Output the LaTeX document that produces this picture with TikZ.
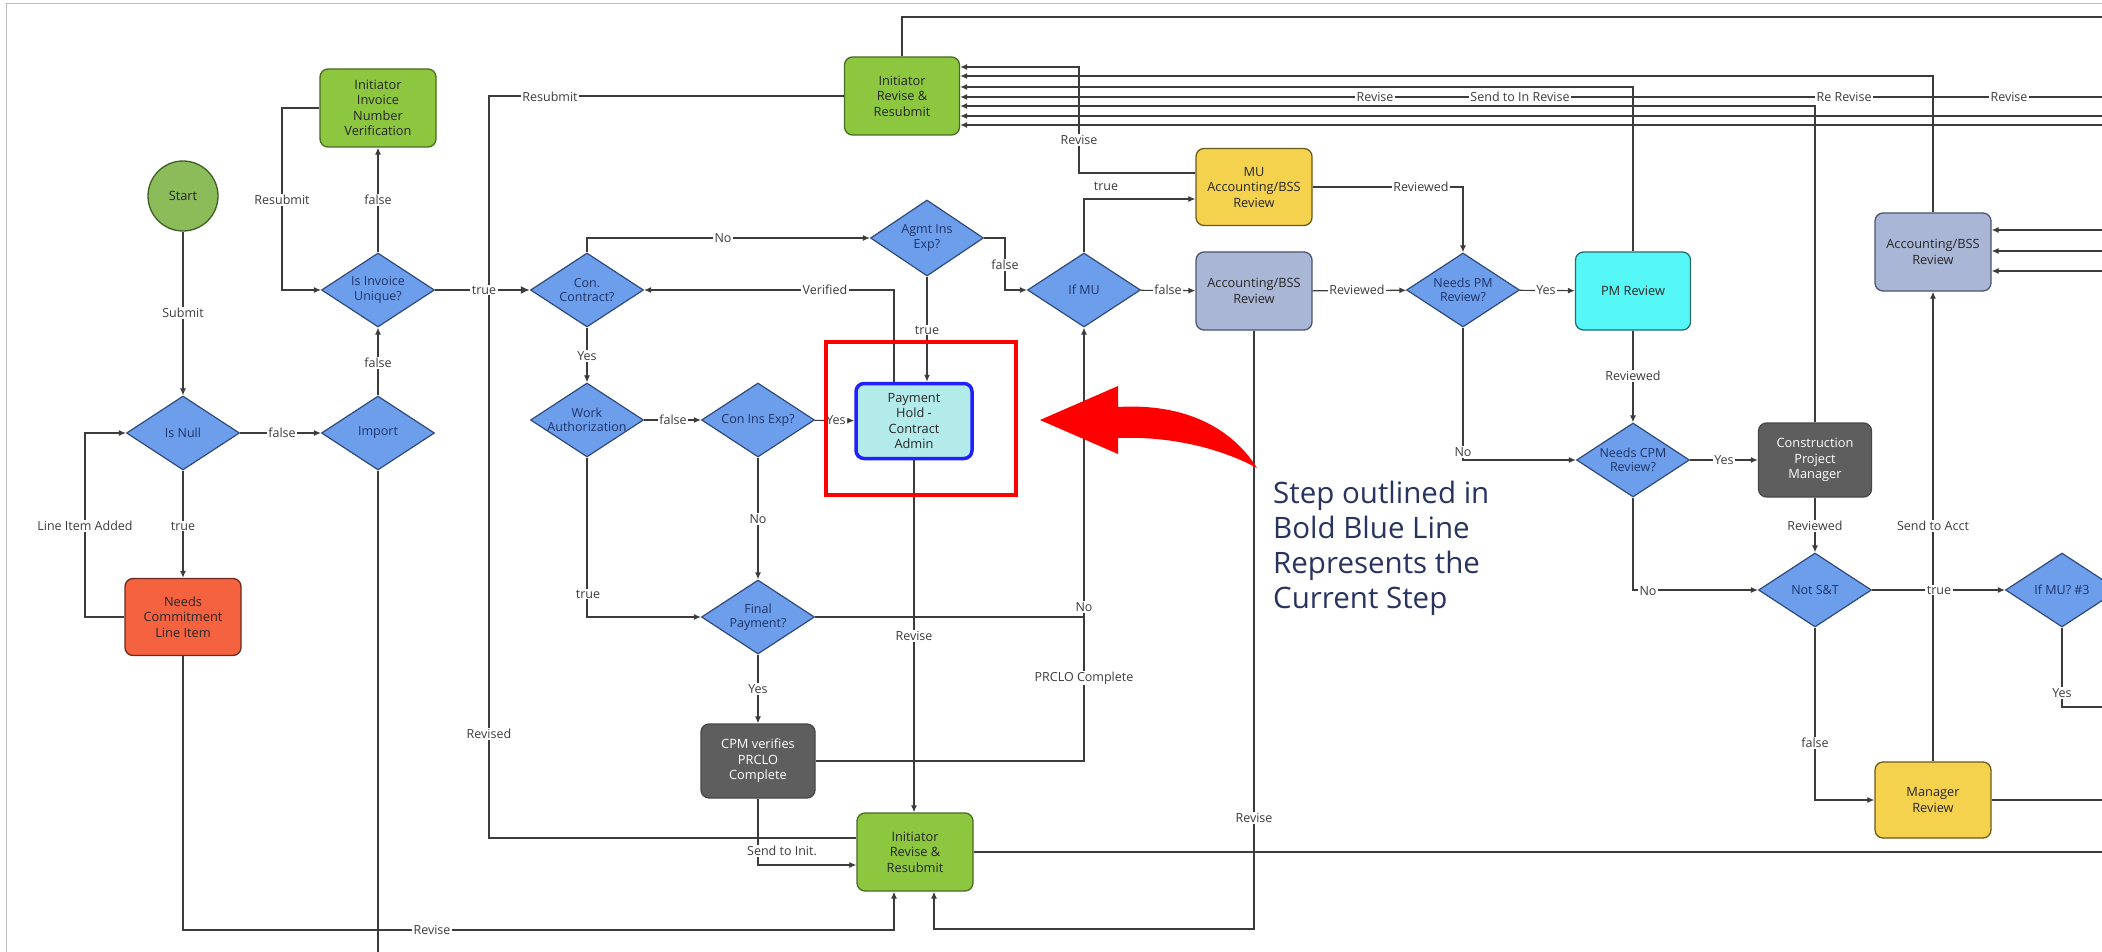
\documentclass[tikz,border=0pt]{standalone}
\usepackage{fontspec}
\setmainfont{Open Sans}
\usetikzlibrary{shapes.geometric,arrows.meta,calc}
\definecolor{grn}{HTML}{8DC63F}
\definecolor{grnd}{HTML}{4A6B22}
\definecolor{startg}{HTML}{8CBB5A}
\definecolor{startd}{HTML}{3E5E23}
\definecolor{diac}{HTML}{6C9EEB}
\definecolor{diad}{HTML}{2F4A7A}
\definecolor{diat}{HTML}{1F3468}
\definecolor{redbox}{HTML}{F4623F}
\definecolor{redboxd}{HTML}{6B2A1E}
\definecolor{phc}{HTML}{B3EBEB}
\definecolor{phd}{HTML}{1F1FFF}
\definecolor{cpmc}{HTML}{5E5E5E}
\definecolor{cpmd}{HTML}{474747}
\definecolor{yel}{HTML}{F5D24E}
\definecolor{yeld}{HTML}{6B5A1E}
\definecolor{accb}{HTML}{AAB6D6}
\definecolor{accd}{HTML}{4A5570}
\definecolor{cyanb}{HTML}{55F7F7}
\definecolor{cyand}{HTML}{2A6A6A}
\definecolor{redc}{HTML}{FF0000}
\definecolor{navy}{HTML}{28345F}
\definecolor{linec}{HTML}{3C3C3C}
\definecolor{framec}{HTML}{BDBDBD}
\newcommand\lblfont{\fontsize{12.5}{14}\selectfont}
\newcommand\boxfont{\fontsize{12.8}{15.5}\selectfont}
\newcommand\diafont{\fontsize{12.5}{14.5}\selectfont}
\begin{document}
\begin{tikzpicture}[x=1pt,y=-1pt,
  box/.style={rectangle, rounded corners=8pt, line width=1.3pt, align=center,
    font=\boxfont, text=black!85, inner sep=2pt},
  dia/.style={shape=diamond, fill=diac, draw=diad, line width=1.2pt, inner sep=0pt,
    minimum width=113pt, minimum height=74pt},
  dtxt/.style={font=\diafont, text=diat, align=center, inner sep=0pt},
  conn/.style={draw=linec, line width=1.2pt},
  arr/.style={conn, -{Latex[length=7pt,width=6pt]}},
  arrbold/.style={draw=linec, line width=2.2pt, -{Latex[length=9pt,width=8pt]}},
  lbl/.style={fill=white, inner xsep=1.5pt, inner ysep=1pt, font=\lblfont, text=linec}
]
\useasboundingbox (0,0) rectangle (2102,952);
\clip (0,0) rectangle (2102,952);
\fill[white] (0,0) rectangle (2102,952);
% frame
\draw[framec, line width=1pt] (6,970) -- (6,4) -- (2120,4);

% routing coordinates
\coordinate (c282) at (282,290);
\coordinate (c85) at (85,433);
\coordinate (c894) at (894,930);
\coordinate (c934) at (934,929);
\coordinate (c489) at (489,290);
\coordinate (c1005) at (1005,290);
\coordinate (c1084) at (1084,617);
\coordinate (c1079) at (1079,67);
\coordinate (importend) at (378,975);
\coordinate (eR) at (2120,0);
\coordinate (e17) at (2120,17);
\coordinate (e97) at (2120,97);
\coordinate (e116) at (2120,116);
\coordinate (e125) at (2120,125);
\coordinate (e230) at (2120,230);
\coordinate (e251) at (2120,251);
\coordinate (e271) at (2120,271);
\coordinate (e707) at (2120,707);

% nodes
\node[circle, fill=startg, draw=startd, line width=1.3pt, minimum size=70pt, inner sep=0pt,
  font=\boxfont, text=black!85] (start) at (183,196) {Start};
\node[box, fill=grn, draw=grnd, minimum width=116, minimum height=78] (ivv) at (378,108) {Initiator\\Invoice\\Number\\Verification};
\node[dia, label={[dtxt]center:Is Null}] (isnull) at (183,433) {};
\node[dia, label={[dtxt]center:Import}] (import) at (378,433) {};
\node[dia, label={[dtxt]center:Is Invoice\\Unique?}] (unique) at (378,290) {};
\node[box, fill=redbox, draw=redboxd, minimum width=116, minimum height=77] (ncl) at (183,617) {Needs\\Commitment\\Line Item};
\node[box, fill=grn, draw=grnd, minimum width=115, minimum height=78] (irr1) at (902,96) {Initiator\\Revise \&\\Resubmit};
\node[dia, label={[dtxt]center:Con.\\Contract?}] (con) at (587,290) {};
\node[dia, minimum height=76pt, label={[dtxt]center:Agmt Ins\\Exp?}] (agmt) at (927,238) {};
\node[dia, label={[dtxt]center:Work\\Authorization}] (work) at (587,420) {};
\node[dia, label={[dtxt]center:Con Ins Exp?}] (cie) at (758,420) {};
\node[box, fill=phc, draw=phd, line width=3.5pt, minimum width=116, minimum height=75] (ph) at (914,421) {Payment\\Hold -\\Contract\\Admin};
\node[dia, label={[dtxt]center:Final\\Payment?}] (fp) at (758,617) {};
\node[box, fill=cpmc, draw=cpmd, text=white, minimum width=114, minimum height=74] (cpmv) at (758,761) {CPM verifies\\PRCLO\\Complete};
\node[box, fill=grn, draw=grnd, minimum width=116, minimum height=78] (irr2) at (915,852) {Initiator\\Revise \&\\Resubmit};
\node[dia, label={[dtxt]center:If MU}] (ifmu) at (1084,290) {};
\node[box, fill=yel, draw=yeld, minimum width=116, minimum height=77] (mua) at (1254,187) {MU\\Accounting/BSS\\Review};
\node[box, fill=accb, draw=accd, minimum width=116, minimum height=78] (acc1) at (1254,291) {Accounting/BSS\\Review};
\node[dia, label={[dtxt]center:Needs PM\\Review?}] (npm) at (1463,290) {};
\node[box, fill=cyanb, draw=cyand, minimum width=115, minimum height=78] (pmr) at (1633,291) {PM Review};
\node[dia, label={[dtxt]center:Needs CPM\\Review?}] (ncpm) at (1633,460) {};
\node[box, fill=cpmc, draw=cpmd, text=white, minimum width=113, minimum height=74] (cpm) at (1815,460) {Construction\\Project\\Manager};
\node[dia, label={[dtxt]center:Not S\&T}] (nst) at (1815,590) {};
\node[dia, label={[dtxt]center:If MU? \#3}] (ifmu3) at (2062,590) {};
\node[box, fill=accb, draw=accd, minimum width=116, minimum height=78] (acc2) at (1933,252) {Accounting/BSS\\Review};
\node[box, fill=yel, draw=yeld, minimum width=116, minimum height=76] (mgr) at (1933,800) {Manager\\Review};

% connectors
\draw[arr] (start) -- (isnull);
\draw[arr] (isnull) -- (import);
\draw[arr] (import) -- (unique);
\draw[arr] (unique) -- (ivv);
\draw[arr] (ivv.west) -| (c282) -- (unique.west);
\draw[arr] (isnull) -- (ncl);
\draw[arr] (ncl.west) -| (c85) -- (isnull.west);
\draw[arr] (ncl.south) |- (c894) -- (c894 |- irr2.south);
\draw[conn] (import.south) -- (importend);
\draw[conn] (irr1.west) -| (c489);
\draw[conn] ($(irr2.west)+(0,-14)$) -| (c489);
\draw[arrbold] (unique) -- (con);
\draw[arr] (con.north) |- (agmt.west);
\draw[arr] (agmt.east) -| (c1005) -- (ifmu.west);
\draw[arr] (agmt.south) -- (agmt.south |- ph.north);
\draw[arr] ($(ph.north)+(-20,0)$) |- (con.east);
\draw[arr] (con) -- (work);
\draw[arr] (work) -- (cie);
\draw[arr] (cie) -- (ph);
\draw[arr] (cie) -- (fp);
\draw[arr] (work.south) |- (fp.west);
\draw[arr] (fp.east) -| (ifmu.south);
\draw[conn] (cpmv.east) -| (c1084);
\draw[arr] (fp) -- (cpmv);
\draw[arr] (cpmv.south) |- ($(irr2.west)+(0,13)$);
\draw[arr] (ph.south) -- (ph.south |- irr2.north);
\draw[arr] (acc1.south) |- (c934) -- (c934 |- irr2.south);
\draw[conn] (irr2.east) -- (irr2.east -| eR);
\draw[arr] ($(mua.west)+(0,-14)$) -| (c1079) -- ($(irr1.east)+(0,-29)$);
\draw[arr] (ifmu.north) |- ($(mua.west)+(0,12)$);
\draw[arr] (ifmu) -- (acc1);
\draw[arr] (mua.east) -| (npm.north);
\draw[arr] (acc1) -- (npm);
\draw[arr] (npm) -- (pmr);
\draw[arr] (npm.south) |- (ncpm.west);
\draw[arr] (pmr.north) |- ($(irr1.east)+(0,-9)$);
\draw[arr] (pmr) -- (ncpm);
\draw[arr] (ncpm) -- (cpm);
\draw[arr] (cpm.north) |- ($(irr1.east)+(0,10)$);
\draw[arr] (ncpm.south) |- (nst.west);
\draw[arr] (cpm) -- (nst);
\draw[arr] (nst) -- (ifmu3);
\draw[arr] (nst.south) |- (mgr.west);
\draw[arr] (mgr) -- (acc2);
\draw[arr] (acc2.north) |- ($(irr1.east)+(0,-20)$);
\draw[conn] (ifmu3.south) |- (e707);
\draw[conn] (mgr.east) -- (mgr.east -| eR);
\draw[arr] (e230) -- (e230 -| acc2.east);
\draw[arr] (e251) -- (e251 -| acc2.east);
\draw[arr] (e271) -- (e271 -| acc2.east);
\draw[arr] (e97) -- (e97 -| irr1.east);
\draw[arr] (e116) -- (e116 -| irr1.east);
\draw[arr] (e125) -- (e125 -| irr1.east);
\draw[conn] (irr1.north) |- (e17);

% labels
\node[lbl] (l1) at (183,313) {Submit};
\node[lbl] (l2) at (282,433) {false};
\node[lbl] (l3) at (378,363) {false};
\node[lbl] (l4) at (378,200) {false};
\node[lbl] (l5) at (282,200) {Resubmit};
\node[lbl] (l6) at (183,526) {true};
\node[lbl] (l7) at (85,526) {Line Item Added};
\node[lbl] (l8) at (432,930) {Revise};
\node[lbl] (l9) at (484,290) {true};
\node[lbl] (l10) at (550,97) {Resubmit};
\node[lbl] (l11) at (489,734) {Revised};
\node[lbl] (l12) at (723,238) {No};
\node[lbl] (l13) at (1005,265) {false};
\node[lbl] (l14) at (927,330) {true};
\node[lbl] (l15) at (825,290) {Verified};
\node[lbl] (l16) at (587,356) {Yes};
\node[lbl] (l17) at (673,420) {false};
\node[lbl] (l18) at (836,420) {Yes};
\node[lbl] (l19) at (758,519) {No};
\node[lbl] (l20) at (588,594) {true};
\node[lbl] (l21) at (1084,607) {No};
\node[lbl] (l22) at (1084,678) {PRCLO Complete};
\node[lbl] (l23) at (758,689) {Yes};
\node[lbl] (l24) at (782,851) {Send to Init.};
\node[lbl] (l25) at (914,636) {Revise};
\node[lbl] (l26) at (1254,818) {Revise};
\node[lbl] (l27) at (1079,140) {Revise};
\node[lbl] (l28) at (1106,186) {true};
\node[lbl] (l29) at (1168,290) {false};
\node[lbl] (l30) at (1421,187) {Reviewed};
\node[lbl] (l31) at (1357,290) {Reviewed};
\node[lbl] (l32) at (1546,290) {Yes};
\node[lbl] (l33) at (1463,452) {No};
\node[lbl] (l34) at (1633,376) {Reviewed};
\node[lbl] (l35) at (1724,460) {Yes};
\node[lbl] (l36) at (1648,591) {No};
\node[lbl] (l37) at (1815,526) {Reviewed};
\node[lbl] (l38) at (1939,590) {true};
\node[lbl] (l39) at (1815,743) {false};
\node[lbl] (l40) at (1933,526) {Send to Acct};
\node[lbl] (l41) at (2062,693) {Yes};
\node[lbl] (l42) at (1375,97) {Revise};
\node[lbl, anchor=east] (l43) at (1531,97) {Send to In};
\node[lbl, anchor=west] (l44) at (1531,97) {Revise};
\node[lbl, anchor=east] (l45) at (1833,97) {Re};
\node[lbl, anchor=west] (l46) at (1833,97) {Revise};
\node[lbl] (l47) at (2009,97) {Revise};

% highlight
\draw[redc, line width=4pt] (826,342) rectangle (1016,495);
\fill[redc] (1040,420) -- (1118,386) -- (1118,407)
  .. controls (1185,403) and (1232,428) .. (1257,468)
  .. controls (1220,448) and (1170,436) .. (1118,438)
  -- (1118,454) -- cycle;
\node[anchor=north west, inner sep=0pt, align=left, text=navy,
  font=\fontsize{29.5}{35}\selectfont] (note) at (1273,481)
  {Step outlined in\\Bold Blue Line\\Represents the\\Current Step};
\end{tikzpicture}
\end{document}
